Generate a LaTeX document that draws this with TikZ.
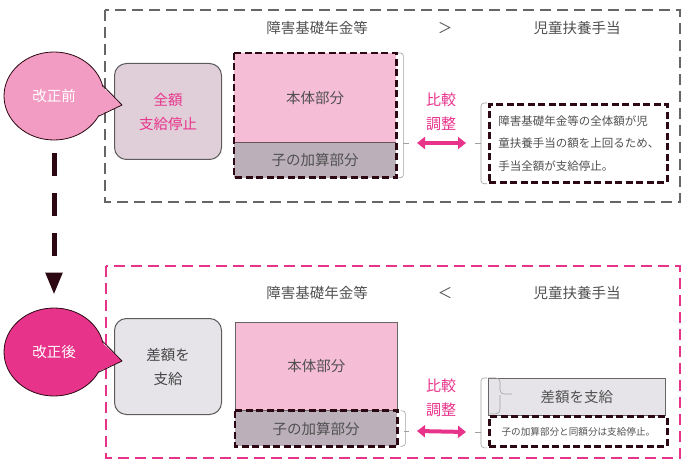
\documentclass[tikz,border=0pt]{standalone}
\usepackage{fontspec}
\setmainfont{Noto Sans CJK JP}
\usetikzlibrary{arrows.meta, shapes.geometric}

\definecolor{txtgray}{HTML}{505050}
\definecolor{boxgray}{HTML}{666666}
\definecolor{rose}{HTML}{E8338A}
\definecolor{roselight}{HTML}{F29CC3}
\definecolor{partpink}{HTML}{F6BDD7}
\definecolor{partgray}{HTML}{BBAFB9}
\definecolor{mauve}{HTML}{E0CFD9}
\definecolor{palegray}{HTML}{E6E4E8}
\definecolor{darkline}{HTML}{2B0812}
\definecolor{bracegray}{HTML}{A0A0A0}

\tikzset{
  txt/.style={text=txtgray, font=\fontsize{14.5}{17}\selectfont},
  thickdash/.style={draw=darkline, line width=2.8pt, dash pattern=on 7pt off 3.5pt},
  balloon/.style={ellipse, draw=darkline, line width=0.8pt, minimum width=100, minimum height=88,
    inner sep=0pt, text=white, font=\fontsize{14.5}{17}\selectfont},
  roundbox/.style={rounded corners=12pt, draw=boxgray!90!black, line width=1pt, minimum width=107,
    minimum height=96, align=center, anchor=north west, font=\fontsize{14.5}{24}\selectfont},
  part/.style={txt, anchor=north west, inner sep=0pt, minimum width=162},
  brace/.style={draw=bracegray, line width=0.6pt, rounded corners=3pt},
  dblarrow/.style={draw=rose, line width=4pt,
    {Triangle[width=12pt,length=8pt]}-{Triangle[width=12pt,length=8pt]}},
  adjust/.style={align=center, text=rose, font=\fontsize{15}{24}\selectfont},
}

\begin{document}
\begin{tikzpicture}[x=1pt, y=-1pt]
    \useasboundingbox (0,0) rectangle (684,462);

    % frames
    \draw[boxgray, line width=1.3pt, dash pattern=on 11pt off 6pt] (105,10) rectangle (680,202);
    \draw[rose, line width=1.2pt, dash pattern=on 11pt off 6pt] (106,266) rectangle (680,458);

    % before the revision
    \node[txt] (ltitle1) at (317,28) {障害基礎年金等};
    \node[txt] (cmp1) at (445,28) {＞};
    \node[txt] (rtitle1) at (577,28) {児童扶養手当};

    \node[roundbox, fill=mauve, text=rose] (stop1) at (114,63) {全額\\支給停止};

    \node[part, fill=partpink, minimum height=89] (body1) at (234,53) {本体部分};
    \node[part, fill=partgray, minimum height=35] (child1) at (body1.south west) {子の加算部分};
    \draw[darkline!70, line width=0.8pt] (body1.south west) -- (body1.south east);
    \draw[thickdash] (body1.north west) rectangle (child1.south east);

    \draw[brace] ([xshift=2]body1.north east) -- ++(5,0) |- ([xshift=2]child1.south east);
    \coordinate (tick1) at (409,143);
    \draw[brace] (403,143) -- (tick1);

    \node[adjust] (adj1) at (441,112) {比較\\調整};

    \node[thickdash, anchor=north west, inner xsep=9pt, text width=160, minimum height=78, align=left,
      text=txtgray, font=\fontsize{11.5}{22.5}\selectfont] (note1) at (488,103)
      {障害基礎年金等の全体額が児\\童扶養手当の額を上回るため、\\手当全額が支給停止。};
    \draw[brace] ([xshift=-1]note1.north west) -- ++(-6,0) |- ([xshift=-1]note1.south west);
    \coordinate (tick2) at (475,143);
    \draw[brace] (481,143) -- (tick2);

    \draw[dblarrow] ([xshift=8]tick1) -- ([xshift=-9]tick2);

    % after the revision
    \node[txt] (ltitle2) at (317,293) {障害基礎年金等};
    \node[txt] (cmp2) at (445,293) {＜};
    \node[txt] (rtitle2) at (577,293) {児童扶養手当};

    \node[roundbox, fill=palegray, text=txtgray!85!black] (pay2) at (114,318) {差額を\\支給};

    \node[part, fill=partpink, draw=boxgray, line width=0.8pt, minimum height=88] (body2) at (235,322) {本体部分};
    \node[part, fill=partgray, minimum height=35] (child2) at (body2.south west) {子の加算部分};
    \draw[thickdash] (child2.north west) rectangle (child2.south east);

    \draw[brace] ([xshift=3]child2.north east) -- ++(5,0) |- ([xshift=3]child2.south east);
    \coordinate (tick3) at (409,431);
    \draw[brace] (404,431) -- (tick3);

    \node[adjust] (adj2) at (441,398) {比較\\調整};

    \node[anchor=north west, draw=boxgray, fill=palegray, line width=0.8pt, minimum width=177,
      minimum height=37, txt] (diff2) at (488,378) {差額を支給};
    \draw[brace, rounded corners=4pt] (diff2.north west) -- ++(12,0) -- ++(0,16) -- ++(12,0);
    \draw[brace, rounded corners=4pt] ([xshift=12,yshift=-17]diff2.north west) |- ([yshift=2]diff2.south west);

    \node[thickdash, anchor=north west, minimum width=178, minimum height=30, inner sep=0pt,
      text=txtgray, font=\fontsize{9.6}{11}\selectfont] (note2) at (488,415) {子の加算部分と同額分は支給停止。};
    \draw[brace] ([xshift=-1]diff2.north west) -- ++(-6,0) |- ([xshift=-1]note2.south west);
    \coordinate (tick4) at (475,432);
    \draw[brace] (481,432) -- (tick4);

    \draw[dblarrow] ([xshift=8]tick3) -- ([xshift=-9]tick4);

    % balloons
    \node[balloon, fill=roselight] (before) at (54,96) {改正前};
    \fill[roselight] ([xshift=-2]before.12) -- (122,105) -- ([xshift=-2]before.-24) -- cycle;
    \draw[darkline, line width=0.8pt, line join=round] (before.12) -- (122,105) -- (before.-24);

    \node[balloon, fill=rose] (after) at (54,352) {改正後};
    \fill[rose] ([xshift=-2]after.12) -- (122,361) -- ([xshift=-2]after.-24) -- cycle;
    \draw[darkline, line width=0.8pt, line join=round] (after.12) -- (122,361) -- (after.-24);

    \draw[darkline, line width=5pt, dash pattern=on 23pt off 17pt, -{Triangle[width=16pt,length=22pt]}]
      ([yshift=-13]before.south) -- ([yshift=13]after.north);
\end{tikzpicture}
\end{document}
